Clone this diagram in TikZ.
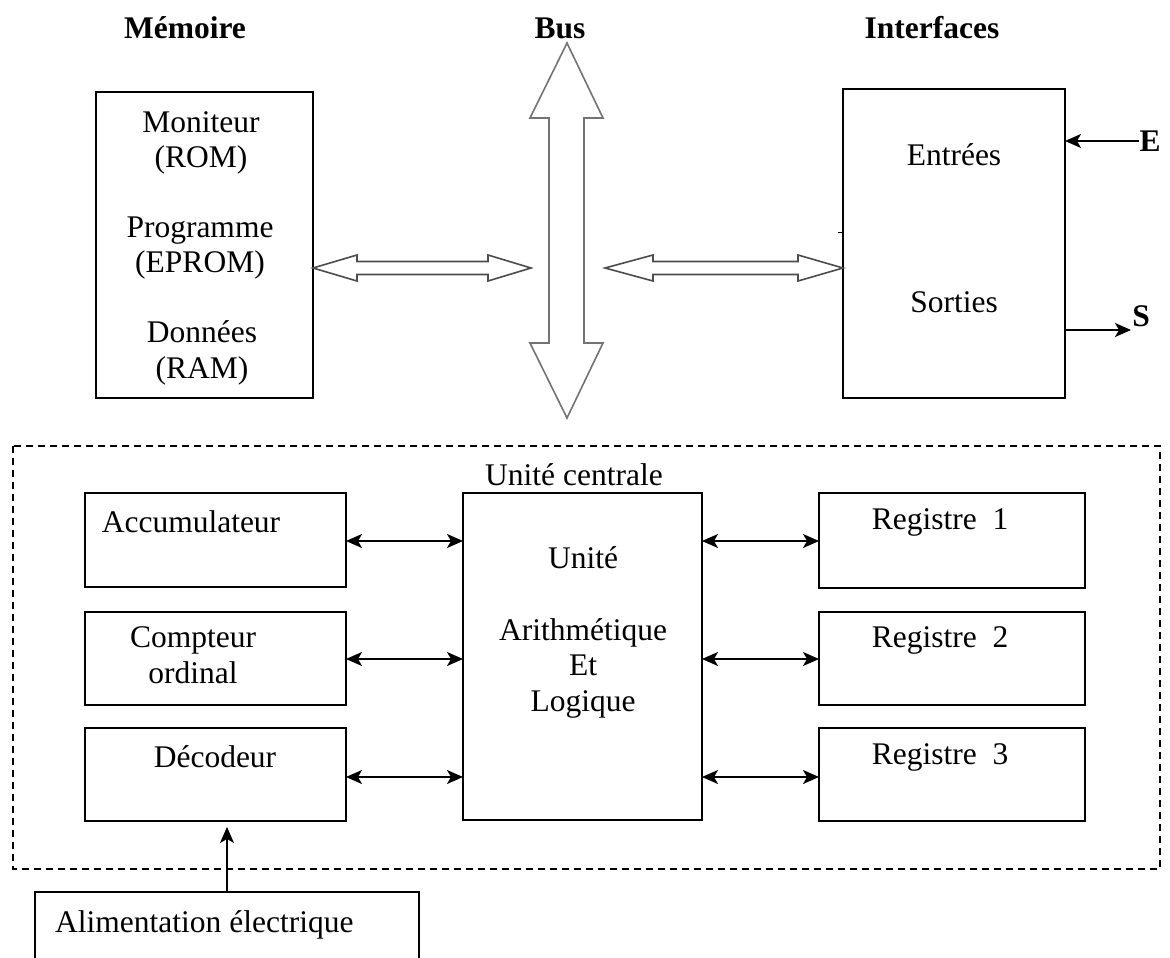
\documentclass[tikz,border=0pt]{standalone}
\usepackage{fontspec}
\setmainfont{Liberation Serif}
\usetikzlibrary{arrows.meta,calc}
\begin{document}
\begin{tikzpicture}[x=1pt,y=-1pt,
  font=\fontsize{31.5}{35.5}\selectfont,
  box/.style={draw,line width=1.8pt,inner sep=0pt,outer sep=0pt},
  lbl/.style={inner sep=0pt,align=center},
  head/.style={lbl,font=\fontsize{31.5}{35.5}\selectfont\bfseries},
  tip/.style={Stealth[length=16pt,width=14pt,inset=4pt]},
  biarrow/.style={line width=1.6pt,{Stealth[length=16pt,width=14pt,inset=4pt]}-{Stealth[length=16pt,width=14pt,inset=4pt]}},
  uniarrow/.style={line width=1.6pt,-{Stealth[length=16pt,width=14pt,inset=4pt]}},
  hollow/.style={draw=black!70,line width=1.6pt,line join=miter,fill=white},
  centrale/.style={draw,line width=1.6pt,dash pattern=on 7pt off 5pt}]
\useasboundingbox (0,0) rectangle (1170,958);

% headings
\node[head] (hmem) at (185,28) {Mémoire};
\node[head] (hbus) at (560,28) {Bus};
\node[head] (hint) at (932,28) {Interfaces};

% memory block
\node[box,minimum width=217pt,minimum height=306pt] (mem) at (204.5,245) {};
\node[lbl] (rom)  at (201,143) {Moniteur\\(ROM)};
\node[lbl] (eprom) at (200,248) {Programme\\(EPROM)};
\node[lbl] (ram)  at (202,353) {Données\\(RAM)};

% interface block
\node[box,minimum width=222pt,minimum height=309pt] (io) at (954,243.5) {};
\node[lbl] (in)  at (954,155) {Entrées};
\node[lbl] (out) at (954,302) {Sorties};
\draw[line width=1pt] ($(io.west)+(-5,-11)$) -- ($(io.west)+(0,-11)$);

% inputs and outputs
\node[head] (E) at (1150,141) {E};
\node[head] (S) at (1141,316) {S};
\coordinate (sout) at (1131,330);
\draw[uniarrow] (E.west) -- (E.west -| io.east);
\draw[uniarrow] (io.east |- sout) -- (sout);

% system bus
\draw[hollow,draw=black!55] (567,43) -- (603,118) -- (584,118) -- (584,343) -- (603,343)
  -- (567,418) -- (530,343) -- (549,343) -- (549,118) -- (530,118) -- cycle;

% memory <-> bus
\draw[hollow] (313,268) -- (357,255) -- (357,261.5) -- (488,261.5) -- (488,255) -- (531,268)
  -- (488,281) -- (488,274.5) -- (357,274.5) -- (357,281) -- cycle;
% bus <-> interfaces
\draw[hollow] (605,268) -- (653,255) -- (653,261.5) -- (798,261.5) -- (798,255) -- (843,268)
  -- (798,281) -- (798,274.5) -- (653,274.5) -- (653,281) -- cycle;

% central unit
\draw[centrale] (13,446) rectangle (1160,869);
\node[lbl] (uc) at (574,475) {Unité centrale};

\node[box,minimum width=261pt,minimum height=94pt] (acc) at (215.5,540) {};
\node[box,minimum width=261pt,minimum height=93pt] (cpt) at (215.5,658.5) {};
\node[box,minimum width=261pt,minimum height=93pt] (dec) at (215.5,774.5) {};
\node[lbl] (tacc) at (191,522) {Accumulateur};
\node[lbl] (tcpt) at (193,655) {Compteur\\ordinal};
\node[lbl] (tdec) at (215,757) {Décodeur};

\node[box,minimum width=239pt,minimum height=327pt] (alu) at (582.5,656.5) {};
\node[lbl] (talu1) at (583,558) {Unité};
\node[lbl] (talu2) at (583,668) {Arithmétique\\Et\\Logique};

\node[box,minimum width=266pt,minimum height=95pt] (r1) at (952,540.5) {};
\node[box,minimum width=266pt,minimum height=93pt] (r2) at (952,658.5) {};
\node[box,minimum width=266pt,minimum height=93pt] (r3) at (952,774.5) {};
\node[lbl] (tr1) at (940,522) {Registre~~1};
\node[lbl] (tr2) at (940,640) {Registre~~2};
\node[lbl] (tr3) at (940,757) {Registre~~3};

\coordinate (y1) at (0,541);
\coordinate (y2) at (0,659);
\coordinate (y3) at (0,777);
\draw[biarrow] (acc.east |- y1) -- (alu.west |- y1);
\draw[biarrow] (cpt.east |- y2) -- (alu.west |- y2);
\draw[biarrow] (dec.east |- y3) -- (alu.west |- y3);
\draw[biarrow] (alu.east |- y1) -- (r1.west |- y1);
\draw[biarrow] (alu.east |- y2) -- (r2.west |- y2);
\draw[biarrow] (alu.east |- y3) -- (r3.west |- y3);

% power supply
\node[box,minimum width=384pt,minimum height=100pt] (alim) at (227,942) {};
\node[lbl,anchor=west] (talim) at (55,925) {Alimentation électrique};
\draw[uniarrow] (alim.north) -- ($(dec.south)+(11.5,6)$);
\end{tikzpicture}
\end{document}
